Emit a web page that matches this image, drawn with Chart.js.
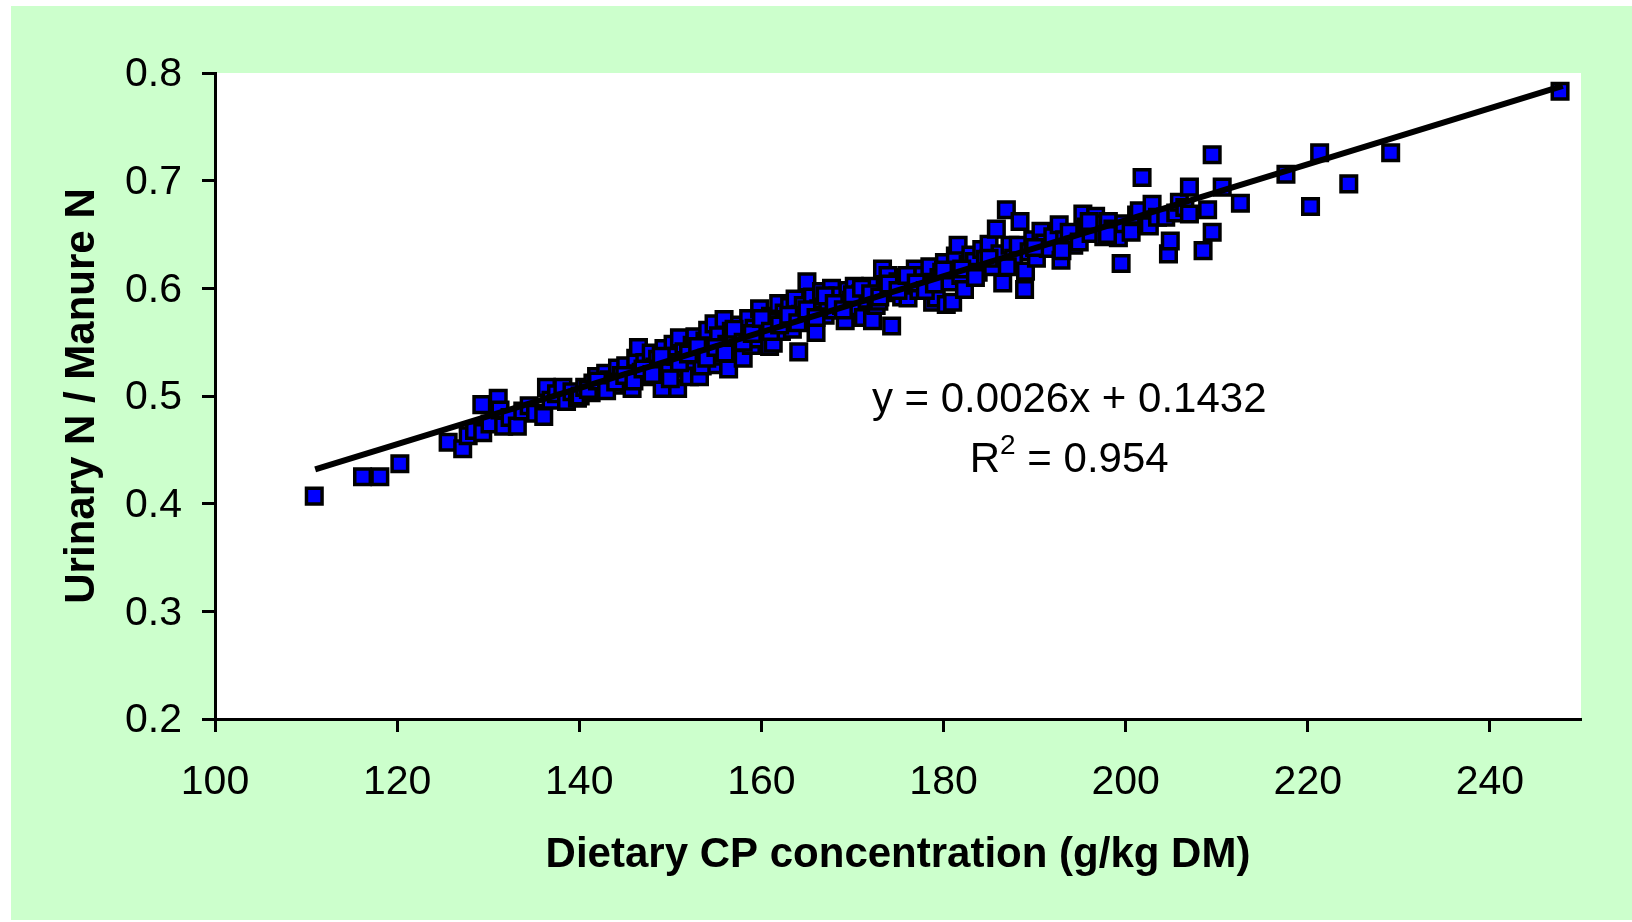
<!DOCTYPE html>
<html><head><meta charset="utf-8">
<script src="https://cdn.jsdelivr.net/npm/chart.js@4.4.1/dist/chart.umd.min.js"></script>
<style>html,body{margin:0;padding:0;background:#fff;overflow:hidden}canvas{display:block}</style>
</head><body>
<canvas id="c" width="1632" height="922"></canvas>
<script>
// ---- data ----
const cpX = [
110.9,116.2,118.1,120.3,125.6,127.2,127.8,128.5,129.3,129.4,130.2,131.1,131.3,131.7,132.4,133.2,133.8,134.5,135.2,136.1,
136.4,136.9,137.5,138.2,138.6,139.2,139.8,140.1,140.6,141.3,141.5,141.9,142.5,142.9,143.3,143.8,144.2,144.6,145.1,145.5,
145.8,146.2,146.5,146.8,147.2,147.5,147.9,148.3,148.6,149.1,149.3,149.6,149.9,150.3,150.6,150.8,151.0,151.2,151.5,151.8,
152.1,152.4,152.7,153.0,153.2,153.5,153.8,154.1,154.4,154.8,155.1,155.3,155.6,155.9,156.2,156.4,156.7,157.0,157.3,157.6,
158.0,158.3,158.6,158.9,159.2,159.5,159.8,160.1,160.4,160.9,161.0,161.3,161.6,161.9,162.2,162.5,162.8,163.1,163.4,163.7,
164.1,164.3,164.6,165.0,165.3,165.6,166.0,166.3,166.6,167.0,167.3,167.7,168.0,168.4,168.8,169.2,169.5,169.9,170.2,170.5,
170.9,171.2,171.6,172.0,172.2,172.6,172.9,173.3,173.6,173.9,174.3,174.6,175.0,175.4,175.8,176.1,176.5,176.9,177.3,177.7,
178.1,178.5,178.8,179.2,179.5,179.8,180.1,180.3,180.7,181.0,181.3,181.6,181.9,182.3,182.7,183.0,183.4,183.8,184.2,184.6,
185.0,185.4,185.8,186.2,186.5,186.9,187.3,187.7,188.2,188.4,188.9,189.0,189.4,189.8,190.2,190.7,191.1,191.5,192.0,192.7,
192.9,193.3,193.8,194.3,194.9,195.3,195.7,196.2,196.7,197.1,197.6,198.1,198.6,199.2,199.5,199.8,200.6,201.2,201.5,201.8,
202.3,202.6,202.9,203.5,204.4,204.7,204.9,205.5,205.9,206.5,207.0,207.0,208.5,209.0,209.5,209.5,210.6,212.6,217.6,220.3,
221.3,224.5,229.1,247.7,
141.0,142.0,143.0,144.0,145.0,146.0,147.0,148.0,149.0,150.0,151.0,152.0,153.0,154.0,155.0,156.0,157.0,158.0,159.0,160.0,
161.0,162.0,163.0,164.0,165.0,166.0,167.0,168.0,169.0,170.0,171.0,172.0,173.0,174.0,175.0,176.0,177.0,178.0,179.0,180.0,
182.0,183.5,185.0,187.0,190.0,193.0,196.0,198.0
];
const urinaryRatio = [
0.407,0.425,0.425,0.437,0.457,0.451,0.463,0.468,0.492,0.466,0.474,0.498,0.487,0.472,0.480,0.472,0.486,0.491,0.484,0.481,
0.508,0.496,0.502,0.508,0.495,0.504,0.498,0.500,0.508,0.503,0.512,0.518,0.509,0.521,0.515,0.510,0.526,0.519,0.528,0.514,
0.507,0.535,0.545,0.522,0.531,0.518,0.540,0.527,0.534,0.507,0.544,0.522,0.530,0.548,0.537,0.507,0.554,0.526,0.541,0.533,
0.518,0.547,0.555,0.538,0.518,0.528,0.551,0.561,0.543,0.567,0.529,0.556,0.537,0.571,0.548,0.525,0.560,0.553,0.541,0.566,
0.535,0.558,0.572,0.547,0.563,0.553,0.581,0.566,0.558,0.546,0.574,0.549,0.569,0.586,0.560,0.577,0.571,0.583,0.562,0.590,
0.541,0.576,0.584,0.606,0.570,0.592,0.559,0.581,0.597,0.575,0.588,0.600,0.580,0.593,0.584,0.570,0.598,0.589,0.602,0.583,
0.595,0.573,0.590,0.602,0.570,0.584,0.588,0.618,0.600,0.612,0.565,0.596,0.606,0.592,0.610,0.591,0.603,0.618,0.598,0.612,
0.605,0.620,0.587,0.591,0.610,0.615,0.624,0.585,0.606,0.587,0.630,0.640,0.612,0.599,0.622,0.631,0.625,0.615,0.636,0.627,
0.641,0.620,0.655,0.632,0.605,0.673,0.640,0.628,0.640,0.662,0.599,0.616,0.634,0.645,0.628,0.653,0.642,0.637,0.648,0.659,
0.626,0.645,0.652,0.640,0.643,0.669,0.657,0.651,0.667,0.660,0.648,0.662,0.655,0.647,0.623,0.660,0.652,0.668,0.672,0.703,
0.660,0.658,0.678,0.666,0.666,0.632,0.644,0.670,0.680,0.675,0.694,0.669,0.635,0.673,0.724,0.652,0.694,0.679,0.706,0.676,
0.726,0.697,0.726,0.783,
0.506,0.514,0.505,0.513,0.519,0.514,0.525,0.520,0.537,0.516,0.531,0.539,0.546,0.535,0.545,0.540,0.562,0.550,0.558,0.572,
0.560,0.566,0.575,0.568,0.580,0.573,0.593,0.586,0.580,0.594,0.600,0.595,0.592,0.604,0.598,0.612,0.605,0.598,0.604,0.617,
0.618,0.610,0.628,0.620,0.638,0.635,0.662,0.650
];
const trendX = [111, 248];
const trendY = [0.4318, 0.7880];
const xTicks = [100, 120, 140, 160, 180, 200, 220, 240];
const xTickLabels = ['100', '120', '140', '160', '180', '200', '220', '240'];
const yTicks = [0.2, 0.3, 0.4, 0.5, 0.6, 0.7, 0.8];
const yTickLabels = ['0.2', '0.3', '0.4', '0.5', '0.6', '0.7', '0.8'];
const xTitle = 'Dietary CP concentration (g/kg DM)';
const yTitle = 'Urinary N / Manure N';
const equationText = 'y = 0.0026x + 0.1432';
const r2Label = 'R';
const r2Sup = '2';
const r2Value = ' = 0.954';

// annotation anchor (data units)
const eqAnchorX = 193.8;
const eqLine1Y = 0.4847;
const eqLine2Y = 0.4295;

const FAMILY = '"Liberation Sans", Arial, Helvetica, sans-serif';

const bgPlugin = {
  id: 'bg',
  beforeDraw(chart) {
    const {ctx, chartArea: a} = chart;
    ctx.save();
    ctx.fillStyle = '#ffffff';
    ctx.fillRect(0, 0, chart.width, chart.height);
    ctx.fillStyle = '#CCFFCC';
    ctx.fillRect(11, 6, chart.width - 11, 914);
    ctx.fillStyle = '#ffffff';
    ctx.fillRect(a.left, a.top, a.right - a.left, a.bottom - a.top);
    ctx.restore();
  }
};

const eqPlugin = {
  id: 'eq',
  afterDraw(chart) {
    const {ctx, scales: {x, y}} = chart;
    const cx = x.getPixelForValue(eqAnchorX);
    const fMain = '42px ' + FAMILY;
    const fSup = '28px ' + FAMILY;
    ctx.save();
    ctx.fillStyle = '#000';
    ctx.textBaseline = 'alphabetic';
    ctx.font = fMain;
    ctx.textAlign = 'center';
    ctx.fillText(equationText, cx, y.getPixelForValue(eqLine1Y));
    const b2 = y.getPixelForValue(eqLine2Y);
    ctx.textAlign = 'left';
    const wR = ctx.measureText(r2Label).width;
    const wV = ctx.measureText(r2Value).width;
    ctx.font = fSup;
    const wS = ctx.measureText(r2Sup).width;
    let sx = cx - (wR + wS + wV) / 2;
    ctx.font = fMain;
    ctx.fillText(r2Label, sx, b2);
    ctx.font = fSup;
    ctx.fillText(r2Sup, sx + wR, b2 - 18);
    ctx.font = fMain;
    ctx.fillText(r2Value, sx + wR + wS, b2);
    ctx.restore();
  }
};

const points = cpX.map((v, i) => ({x: v, y: urinaryRatio[i]}));
const trend = trendX.map((v, i) => ({x: v, y: trendY[i]}));

new Chart(document.getElementById('c'), {
  type: 'scatter',
  data: {
    datasets: [
      {
        label: 'trend',
        data: trend,
        showLine: true,
        borderColor: '#000000',
        borderWidth: 6,
        pointRadius: 0,
        fill: false,
        order: 0
      },
      {
        label: 'Urinary N / Manure N',
        data: points,
        pointStyle: 'rect',
        pointRadius: 11,
        pointBackgroundColor: '#0000FF',
        pointBorderColor: '#000000',
        pointBorderWidth: 3.5,
        showLine: false,
        order: 1
      }
    ]
  },
  options: {
    responsive: false,
    animation: false,
    events: [],
    layout: {padding: {left: 0, right: 51, top: 73, bottom: 0}},
    plugins: {legend: {display: false}, tooltip: {enabled: false}},
    scales: {
      x: {
        type: 'linear', position: 'bottom', min: 100, max: 250,
        afterBuildTicks: s => { s.ticks = xTicks.map(v => ({value: v})); },
        afterFit: s => { s.height = 203; },
        ticks: {callback: (v, i) => xTickLabels[i], color: '#000', font: {size: 41, family: FAMILY}, padding: 26, maxRotation: 0, autoSkip: false},
        grid: {display: true, drawOnChartArea: false, drawTicks: true, tickLength: 13, tickWidth: 3, tickColor: '#000', color: '#000'},
        border: {display: true, color: '#000', width: 3},
        title: {display: true, text: xTitle, color: '#000', font: {size: 42, weight: 'bold', family: FAMILY}, padding: {top: 0, bottom: 41}}
      },
      y: {
        type: 'linear', position: 'left', min: 0.2, max: 0.8,
        afterBuildTicks: s => { s.ticks = yTicks.map(v => ({value: v})); },
        afterFit: s => { s.width = 215; },
        ticks: {callback: (v, i) => yTickLabels[i], color: '#000', font: {size: 41, family: FAMILY}, padding: 20, labelOffset: 2, autoSkip: false},
        grid: {display: true, drawOnChartArea: false, drawTicks: true, tickLength: 13, tickWidth: 3, tickColor: '#000', color: '#000'},
        border: {display: true, color: '#000', width: 3},
        title: {display: true, text: yTitle, color: '#000', font: {size: 42, weight: 'bold', family: FAMILY}, padding: {top: 57, bottom: 0}}
      }
    }
  },
  plugins: [bgPlugin, eqPlugin]
});
</script>
</body></html>
